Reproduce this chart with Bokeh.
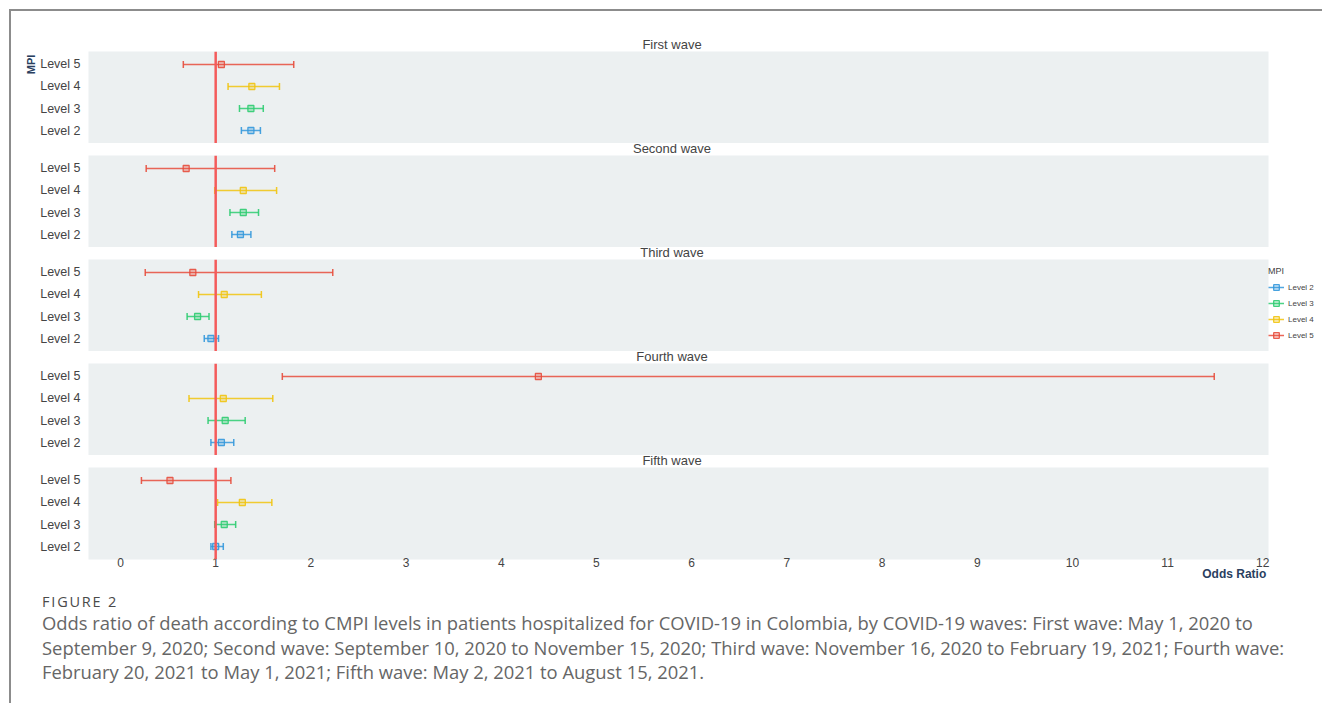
import math
from bokeh.plotting import figure
from bokeh.models import (ColumnDataSource, FactorRange, Range1d, Span, Div,
                          Legend, LegendItem, FixedTicker, CategoricalAxis,
                          LinearAxis)
from bokeh.layouts import column
from bokeh.embed import file_html
from bokeh.resources import INLINE

# ---------------- data ----------------
levels = ["Level 2", "Level 3", "Level 4", "Level 5"]
waves = ["First wave", "Second wave", "Third wave", "Fourth wave", "Fifth wave"]

or_first = [1.37, 1.37, 1.38, 1.06]
lo_first = [1.27, 1.25, 1.13, 0.66]
hi_first = [1.47, 1.50, 1.67, 1.82]

or_second = [1.26, 1.29, 1.29, 0.69]
lo_second = [1.17, 1.15, 0.99, 0.27]
hi_second = [1.37, 1.45, 1.64, 1.62]

or_third = [0.95, 0.81, 1.09, 0.76]
lo_third = [0.88, 0.70, 0.82, 0.26]
hi_third = [1.03, 0.93, 1.48, 2.23]

or_fourth = [1.06, 1.10, 1.08, 4.39]
lo_fourth = [0.95, 0.92, 0.72, 1.70]
hi_fourth = [1.19, 1.31, 1.60, 11.49]

or_fifth = [1.00, 1.09, 1.28, 0.52]
lo_fifth = [0.95, 0.99, 1.02, 0.22]
hi_fifth = [1.08, 1.21, 1.59, 1.16]

x_ticks = list(range(0, 13))
x_tick_labels = [str(t) for t in x_ticks]

# axis-title "factors": blank rows, with the title on the top row
mpi_title_factors = [" ", "  ", "   ", "MPI"]

caption_head = "FIGURE 2"
caption_lines = [
    "Odds ratio of death according to CMPI levels in patients hospitalized for COVID-19 in Colombia, by COVID-19 waves: First wave: May 1, 2020 to",
    "September 9, 2020; Second wave: September 10, 2020 to November 15, 2020; Third wave: November 16, 2020 to February 19, 2021; Fourth wave:",
    "February 20, 2021 to May 1, 2021; Fifth wave: May 2, 2021 to August 15, 2021.",
]

wave_data = [
    (or_first, lo_first, hi_first),
    (or_second, lo_second, hi_second),
    (or_third, lo_third, hi_third),
    (or_fourth, lo_fourth, hi_fourth),
    (or_fifth, lo_fifth, hi_fifth),
]

colors = ["#3498db", "#2ecc71", "#f1c40f", "#e74c3c"]

# ---------------- layout constants ----------------
FONT = "Liberation Sans"
DIV_W = 1309
FRAME_W = 1180
FRAME_H = 92
LEFT = 77
RIGHT = 46
TITLE_CX = 661   # centre of the panel titles, from the layout's left edge
PAD = 0.045

x_range = Range1d(-0.336, 12.06)


def title_div(text, height, pad_top):
    html = ('<div style="position:relative;width:%dpx;height:%dpx;">'
            '<span style="position:absolute;left:%dpx;top:%dpx;'
            'transform:translateX(-50%%);white-space:nowrap;line-height:12px;'
            'font-family:\'Liberation Sans\';font-size:13px;color:#444444;">%s</span>'
            '</div>') % (DIV_W, height, TITLE_CX, pad_top, text)
    return Div(text=html, width=DIV_W, height=height, margin=0)


children = []
legend_items = []
for i, (wave, (ors, los, his)) in enumerate(zip(waves, wave_data)):
    first = i == 0
    last = i == len(waves) - 1
    children.append(title_div(wave, 40 if first else 12, 28 if first else 0))

    p = figure(frame_width=FRAME_W, frame_height=FRAME_H,
               x_range=x_range,
               y_range=FactorRange(*levels, range_padding=PAD),
               output_backend="svg", toolbar_location=None,
               x_axis_location="below" if last else None,
               min_border_left=LEFT, min_border_right=0 if i == 2 else RIGHT,
               min_border_top=0, min_border_bottom=30 if last else 0)
    p.background_fill_color = "#ecf0f1"
    p.border_fill_color = "white"
    p.outline_line_color = None
    p.xgrid.visible = False
    p.ygrid.visible = False

    ya = p.yaxis[0]
    ya.axis_line_color = None
    ya.major_tick_line_color = None
    ya.minor_tick_line_color = None
    ya.major_tick_out = 0
    ya.major_label_standoff = 8
    ya.major_label_text_font = FONT
    ya.major_label_text_font_size = "12.5px"
    ya.major_label_text_color = "#444444"

    if first:
        p.extra_y_ranges = {"mpi": FactorRange(*mpi_title_factors,
                                               range_padding=PAD)}
        mpi_axis = CategoricalAxis(
            y_range_name="mpi",
            axis_line_color=None, major_tick_line_color=None,
            minor_tick_line_color=None, major_tick_out=0,
            major_label_standoff=0, major_label_orientation="vertical",
            major_label_text_font=FONT, major_label_text_font_size="11px",
            major_label_text_font_style="bold",
            major_label_text_color="#2a3f5f")
        p.add_layout(mpi_axis, "left")

    if last:
        xa = p.xaxis[0]
        xa.ticker = FixedTicker(ticks=x_ticks)
        xa.major_label_overrides = {t: s for t, s in zip(x_ticks, x_tick_labels)}
        xa.axis_line_color = None
        xa.major_tick_line_color = None
        xa.minor_tick_line_color = None
        xa.major_tick_out = 0
        xa.major_label_standoff = -2
        xa.major_label_text_font = FONT
        xa.major_label_text_font_size = "12px"
        xa.major_label_text_color = "#444444"

        title_axis = LinearAxis(
            ticker=FixedTicker(ticks=[11.70], minor_ticks=[]),
            major_label_overrides={11.70: "Odds Ratio"},
            axis_line_color=None, major_tick_line_color=None,
            minor_tick_line_color=None, major_tick_out=0,
            major_label_standoff=-3, major_label_text_font=FONT,
            major_label_text_font_size="12px",
            major_label_text_font_style="bold",
            major_label_text_color="#2a3f5f")
        p.add_layout(title_axis, "below")

    p.add_layout(Span(location=1, dimension="height", line_color="#f45b5b",
                      line_width=2.5))

    for j, lvl in enumerate(levels):
        src = ColumnDataSource(dict(y=[lvl], x=[ors[j]], lo=[los[j]], hi=[his[j]]))
        c = colors[j]
        seg = p.segment(x0="lo", y0="y", x1="hi", y1="y", source=src,
                        line_color=c, line_width=1.5, line_alpha=0.85)
        p.scatter(x="lo", y="y", source=src, marker="dash", angle=math.pi / 2,
                  size=7, line_color=c, line_width=1.5, line_alpha=0.9)
        p.scatter(x="hi", y="y", source=src, marker="dash", angle=math.pi / 2,
                  size=7, line_color=c, line_width=1.5, line_alpha=0.9)
        mk = p.scatter(x="x", y="y", source=src, marker="square", size=6,
                       line_color=c, line_width=1.3, fill_color=c,
                       fill_alpha=0.25, line_alpha=0.9)
        if i == 2:
            legend_items.append(LegendItem(label=lvl, renderers=[seg, mk]))

    if i == 2:
        leg = Legend(items=legend_items, location=(0, 9),
                     title="MPI", title_text_font=FONT,
                     title_text_font_size="9px", title_text_font_style="normal",
                     title_text_color="#444444", title_standoff=4,
                     label_text_font=FONT, label_text_font_size="8px",
                     label_text_color="#444444", glyph_width=16,
                     glyph_height=14, label_height=14, spacing=2, padding=2,
                     margin=0, label_standoff=4,
                     background_fill_alpha=0, border_line_color=None)
        p.add_layout(leg, "right")

    children.append(p)

cap_html = ['<div style="position:relative;width:%dpx;height:114px;'
            'font-family:\'Open Sans\';">' % DIV_W]
cap_html.append('<div style="position:absolute;left:31px;top:3px;line-height:20px;'
                'font-size:14.5px;letter-spacing:1.8px;color:#4a4a4a;'
                'white-space:nowrap;">%s</div>' % caption_head)
for k, line in enumerate(caption_lines):
    cap_html.append('<div style="position:absolute;left:31px;top:%dpx;'
                    'line-height:24px;font-size:18.4px;color:#666666;'
                    'white-space:nowrap;">%s</div>' % (22 + 25 * k - (1 if k == 2 else 0), line))
cap_html.append('</div>')
children.append(Div(text="".join(cap_html), width=DIV_W, height=114, margin=0))

layout = column(*children, spacing=0,
                styles={"border-top": "2px solid #8c8c8c",
                        "border-left": "2px solid #8c8c8c",
                        "margin": "9px 0 0 9px"})

open("out.html", "w").write(file_html(layout, INLINE))
